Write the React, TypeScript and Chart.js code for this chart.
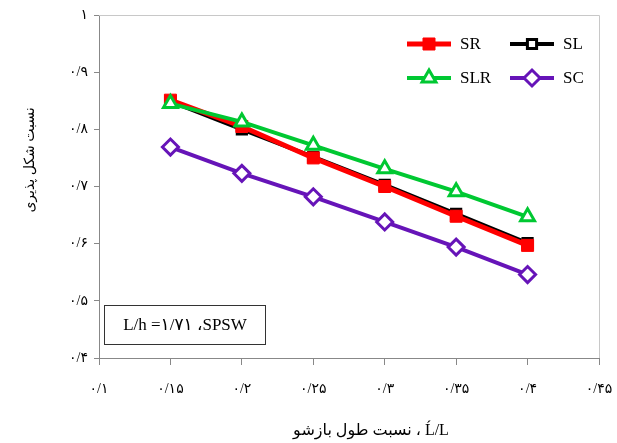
import React, { useEffect, useRef } from 'react';
import { Chart, registerables } from 'chart.js';
import { drawPoint } from 'chart.js/helpers';

Chart.register(...registerables);

const xValues = [0.15, 0.2, 0.25, 0.3, 0.35, 0.4];
const srValues = [0.851, 0.805, 0.75, 0.7, 0.648, 0.597];
const slValues = [0.849, 0.8, 0.752, 0.703, 0.652, 0.601];
const slrValues = [0.845, 0.813, 0.772, 0.731, 0.691, 0.647];
const scValues = [0.769, 0.723, 0.682, 0.638, 0.594, 0.546];

const xTickLabels = ['۰/۱', '۰/۱۵', '۰/۲', '۰/۲۵', '۰/۳', '۰/۳۵', '۰/۴', '۰/۴۵'];
const yTickLabels = ['۰/۴', '۰/۵', '۰/۶', '۰/۷', '۰/۸', '۰/۹', '۱'];
const xTitle = 'نسبت طول بازشو ، Ĺ/L';
const yTitle = 'نسبت شکل پذیری';
const noteText = 'L/h =۱/۷۱ ،SPSW';

const FONT = "'Liberation Serif', 'DejaVu Sans', serif";

const toPoints = (ys: number[]) => ys.map((y, i) => ({ x: xValues[i], y }));

const legendPlugin = {
  id: 'customLegend',
  afterDraw(chart: any) {
    const ctx = chart.ctx;
    const ca = chart.chartArea;
    const colX = [ca.left + 308, ca.left + 411];
    const rowY = [ca.top + 29, ca.top + 63];
    const lineLen = 44;
    const order = [0, 1, 2, 3]; // SR, SL, SLR, SC
    ctx.save();
    order.forEach((dsIndex, k) => {
      const ds = chart.data.datasets[dsIndex];
      const x0 = colX[k % 2];
      const y = rowY[Math.floor(k / 2)];
      ctx.strokeStyle = ds.borderColor;
      ctx.lineWidth = ds.borderWidth;
      ctx.lineCap = 'butt';
      ctx.beginPath();
      ctx.moveTo(x0, y);
      ctx.lineTo(x0 + lineLen, y);
      ctx.stroke();
      ctx.fillStyle = ds.pointBackgroundColor;
      ctx.strokeStyle = ds.pointBorderColor;
      ctx.lineWidth = ds.pointBorderWidth;
      drawPoint(ctx, { pointStyle: ds.pointStyle, radius: ds.pointRadius, borderWidth: ds.pointBorderWidth, rotation: 0 }, x0 + lineLen / 2, y);
      ctx.fillStyle = '#000';
      ctx.font = `17px ${FONT}`;
      ctx.textAlign = 'left';
      ctx.textBaseline = 'middle';
      ctx.fillText(ds.label, x0 + lineLen + 9, y + 1);
    });
    ctx.restore();
  },
};

const framePlugin = {
  id: 'frameAndNote',
  beforeDatasetsDraw(chart: any) {
    const ctx = chart.ctx;
    const ca = chart.chartArea;
    ctx.save();
    ctx.strokeStyle = '#c8c8c8';
    ctx.lineWidth = 1;
    ctx.beginPath();
    ctx.moveTo(ca.left, ca.top + 0.5);
    ctx.lineTo(ca.right + 0.5, ca.top + 0.5);
    ctx.lineTo(ca.right + 0.5, ca.bottom);
    ctx.stroke();
    ctx.restore();
  },
  afterDraw(chart: any) {
    const ctx = chart.ctx;
    const ca = chart.chartArea;
    const bx = ca.left + 5.5;
    const by = ca.bottom - 52.5;
    const bw = 161;
    const bh = 39;
    ctx.save();
    ctx.fillStyle = '#fff';
    ctx.fillRect(bx, by, bw, bh);
    ctx.strokeStyle = '#333';
    ctx.lineWidth = 1;
    ctx.strokeRect(bx, by, bw, bh);
    ctx.fillStyle = '#000';
    ctx.font = `17px ${FONT}`;
    ctx.textAlign = 'center';
    ctx.textBaseline = 'middle';
    ctx.fillText(noteText, bx + bw / 2, by + bh / 2 + 1);

    // axis titles
    ctx.font = `16px ${FONT}`;
    ctx.fillText(xTitle, ca.left + 272, chart.height - 12);
    ctx.translate(30, ca.top + 145);
    ctx.rotate(-Math.PI / 2);
    ctx.font = `14px ${FONT}`;
    ctx.fillText(yTitle, 0, 0);
    ctx.restore();
  },
};

export default function App() {
  const ref = useRef<HTMLCanvasElement | null>(null);

  useEffect(() => {
    document.body.style.margin = '0';
    const canvas = ref.current;
    if (!canvas) return;
    const chart = new Chart(canvas, {
      type: 'line',
      data: {
        datasets: [
          {
            label: 'SR',
            data: toPoints(srValues),
            borderColor: '#ff0000',
            borderWidth: 5,
            pointStyle: 'rect',
            pointRadius: 8.5,
            pointBackgroundColor: '#ff0000',
            pointBorderColor: '#ff0000',
            pointBorderWidth: 1,
            order: 2,
          },
          {
            label: 'SL',
            data: toPoints(slValues),
            borderColor: '#000000',
            borderWidth: 4,
            pointStyle: 'rect',
            pointRadius: 6.5,
            pointBackgroundColor: '#ffffff',
            pointBorderColor: '#000000',
            pointBorderWidth: 3,
            order: 3,
          },
          {
            label: 'SLR',
            data: toPoints(slrValues),
            borderColor: '#00c832',
            borderWidth: 4,
            pointStyle: 'triangle',
            pointRadius: 8,
            pointBackgroundColor: '#ffffff',
            pointBorderColor: '#00c832',
            pointBorderWidth: 3,
            order: 1,
          },
          {
            label: 'SC',
            data: toPoints(scValues),
            borderColor: '#6614b8',
            borderWidth: 4,
            pointStyle: 'rectRot',
            pointRadius: 8,
            pointBackgroundColor: '#ffffff',
            pointBorderColor: '#6614b8',
            pointBorderWidth: 3,
            order: 0,
          },
        ],
      },
      options: {
        responsive: false,
        animation: false,
        devicePixelRatio: 1,
        layout: { padding: { top: 15, right: 18, left: 0, bottom: 0 } },
        plugins: {
          legend: { display: false },
          tooltip: { enabled: false },
        },
        elements: { line: { tension: 0 } },
        scales: {
          x: {
            type: 'linear',
            min: 0.1,
            max: 0.45,
            ticks: {
              stepSize: 0.05,
              color: '#000',
              font: { family: FONT, size: 14 },
              padding: 16,
              maxRotation: 0,
              autoSkip: false,
              callback: (v: any) => xTickLabels[Math.round(Number(v) * 20) - 2] ?? '',
            },
            grid: {
              display: true,
              drawOnChartArea: false,
              drawTicks: true,
              tickLength: 7,
              tickColor: '#888',
              color: '#888',
            },
            border: { display: true, color: '#888', width: 1 },
            title: { display: false },
            afterFit: (scale: any) => {
              scale.height = 85;
              scale.paddingLeft = 0;
              scale.paddingRight = 0;
            },
          },
          y: {
            type: 'linear',
            min: 0.4,
            max: 1,
            ticks: {
              stepSize: 0.1,
              color: '#000',
              font: { family: FONT, size: 14 },
              padding: 6,
              callback: (v: any) => yTickLabels[Math.round(Number(v) * 10) - 4] ?? '',
            },
            grid: {
              display: true,
              drawOnChartArea: false,
              drawTicks: true,
              tickLength: 5,
              tickColor: '#888',
              color: '#888',
            },
            border: { display: true, color: '#888', width: 1 },
            title: { display: false },
            afterFit: (scale: any) => {
              scale.width = 99;
              scale.paddingTop = 0;
              scale.paddingBottom = 0;
            },
          },
        },
      },
      plugins: [framePlugin, legendPlugin],
    } as any);
    return () => chart.destroy();
  }, []);

  return (
    <div style={{ position: 'fixed', left: 0, top: 0, width: 617, height: 443, background: '#fff' }}>
      <canvas ref={ref} width={617} height={443} style={{ width: 617, height: 443, display: 'block' }} />
    </div>
  );
}
